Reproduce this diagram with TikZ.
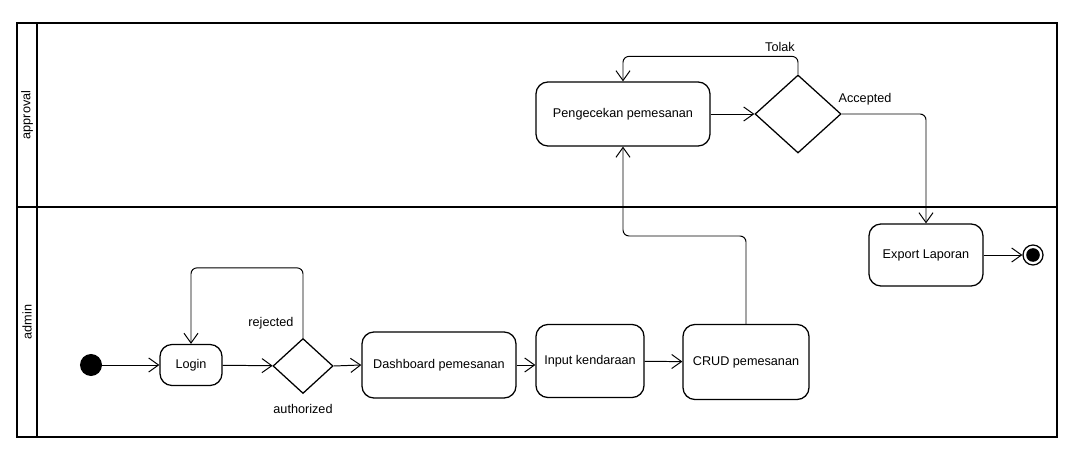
\documentclass[tikz,border=0pt]{standalone}
\usepackage{fontspec}
\setmainfont{Liberation Sans}
\usetikzlibrary{arrows.meta,shapes.geometric}

\begin{document}
\begin{tikzpicture}[x=0.025cm,y=-0.025cm,
  every node/.style={font=\fontsize{9}{11}\selectfont},
  act/.style={draw,line width=0.9pt,rounded corners=0.3cm,align=center,inner sep=0pt},
  dec/.style={draw,line width=0.9pt,diamond,inner sep=0pt},
  flow/.style={line width=0.7pt,rounded corners=0.15cm,-{Straight Barb[length=7pt,width=10pt,line width=0.7pt]}},
  lane/.style={line width=1.6pt}]
\useasboundingbox (0,0) rectangle (1074,459);
%swimlanes
\draw[lane](17,23) rectangle (1057,437);
\draw[lane](37,23)--(37,437);
\draw[lane](17,207)--(1057,207);
\node[rotate=90] (approval) at (27,115) {approval};
\node[rotate=90] (admin) at (27,322) {admin};
%admin lane
\node[circle,fill=black,minimum size=0.55cm,inner sep=0pt] (init) at (91,365) {};
\node[act,minimum width=1.55cm,minimum height=1.025cm] (login) at (191,365) {Login};
\node[dec,minimum width=1.5cm,minimum height=1.375cm] (auth) at (303,366) {};
\node[act,minimum width=3.85cm,minimum height=1.65cm] (dash) at (439,365) {Dashboard pemesanan};
\node[act,minimum width=2.7cm,minimum height=1.825cm] (input) at (590,361) {Input kendaraan};
\node[act,minimum width=3.15cm,minimum height=1.875cm] (crud) at (746,362) {CRUD pemesanan};
\node[act,minimum width=2.85cm,minimum height=1.55cm] (export) at (926,255) {Export Laporan};
\node[circle,draw,line width=0.9pt,minimum size=0.5cm,inner sep=0pt] (final) at (1033,255) {};
\node[circle,fill=black,minimum size=0.34cm,inner sep=0pt] at (final) {};
%approval lane
\node[act,minimum width=4.35cm,minimum height=1.6cm] (cek) at (623,114) {Pengecekan pemesanan};
\node[dec,minimum width=2.15cm,minimum height=1.95cm] (acc) at (798,114) {};
%labels
\node (rejected) at (271,323) {rejected};
\node (authorized) at (303,409) {authorized};
\node (tolak) at (780,47) {Tolak};
\node (accepted) at (865,99) {Accepted};
%flows
\draw[flow](init)--(login);
\draw[flow](login)--(auth);
\draw[flow](auth.north)--++(0,-70)-|(login.north);
\draw[flow](auth.east)--(dash.west);
\draw[flow](dash.east)--(dash.east-|input.west);
\draw[flow](input)--(crud);
\draw[flow](crud.north)--(746,236)-|(cek.south);
\draw[flow](cek)--(acc);
\draw[flow](acc.north)--++(0,-18)-|(cek.north);
\draw[flow](acc.east)-|(export.north);
\draw[flow](export)--(final);
\end{tikzpicture}
\end{document}
